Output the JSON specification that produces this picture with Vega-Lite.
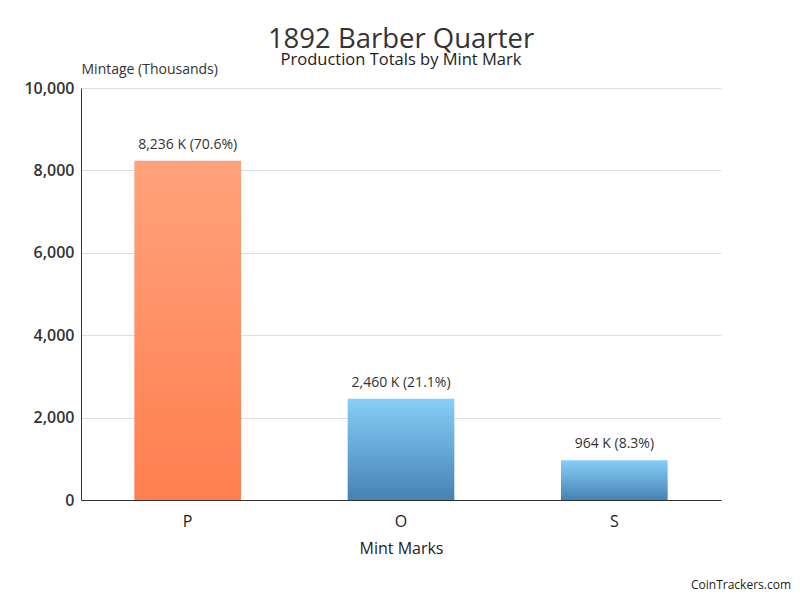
{
  "$schema": "https://vega.github.io/schema/vega-lite/v6.json",
  "background": "white",
  "padding": {"left": 23, "top": 26, "right": 10, "bottom": 5},
  "title": {"text": "CoinTrackers.com", "orient": "bottom", "anchor": "end", "fontSize": 12, "font": "Open Sans", "fontWeight": "normal", "color": "#222", "dx": 70, "offset": 24},
  "vconcat": [
    {
      "width": 640,
      "height": 412,
      "title": {
        "text": "1892 Barber Quarter",
        "subtitle": "Production Totals by Mint Mark",
        "anchor": "middle",
        "font": "Open Sans",
        "fontSize": 27.5,
        "fontWeight": "normal",
        "color": "#333",
        "subtitleFont": "Open Sans",
        "subtitleFontSize": 16.5,
        "subtitleColor": "#222",
        "subtitlePadding": -2,
        "offset": -6
      },
      "data": {
        "values": [
          {"mint": "P", "mintage": 8236, "label": "8,236 K (70.6%)", "group": "P"},
          {"mint": "O", "mintage": 2460, "label": "2,460 K (21.1%)", "group": "branch"},
          {"mint": "S", "mintage": 964, "label": "964 K (8.3%)", "group": "branch"}
        ]
      },
      "encoding": {
        "x": {
          "field": "mint",
          "type": "nominal",
          "sort": ["P", "O", "S"],
          "scale": {"paddingInner": 0.5, "paddingOuter": 0.25},
          "axis": {
            "title": "Mint Marks",
            "labelAngle": 0,
            "ticks": false,
            "domainColor": "#333",
            "labelFont": "Open Sans",
            "labelFontSize": 16,
            "labelColor": "#222",
            "labelPadding": 13,
            "titleFont": "Open Sans",
            "titleFontSize": 16,
            "titleFontWeight": "normal",
            "titleColor": "#222",
            "titlePadding": 11
          }
        },
        "y": {
          "field": "mintage",
          "type": "quantitative",
          "scale": {"domain": [0, 10000]},
          "axis": {
            "values": [0, 2000, 4000, 6000, 8000, 10000],
            "format": ",d",
            "title": "Mintage (Thousands)",
            "titleAngle": 0,
            "titleAlign": "left",
            "titleBaseline": "alphabetic",
            "titleX": 0,
            "titleY": -15,
            "titleFont": "Open Sans",
            "titleFontSize": 14,
            "titleFontWeight": "normal",
            "titleColor": "#333",
            "ticks": false,
            "domainColor": "#333",
            "gridColor": "#dedede",
            "labelFont": "Open Sans",
            "labelFontSize": 16,
            "labelFontWeight": 600,
            "labelColor": "#333",
            "labelPadding": 7
          }
        }
      },
      "layer": [
        {
          "transform": [{"filter": "datum.group === 'P'"}],
          "mark": {
            "type": "bar",
            "fill": {"gradient": "linear", "x1": 0, "y1": 0, "x2": 0, "y2": 1, "stops": [{"offset": 0, "color": "#FFA27C"}, {"offset": 1, "color": "#FF7F4F"}]}
          }
        },
        {
          "transform": [{"filter": "datum.group === 'branch'"}],
          "mark": {
            "type": "bar",
            "fill": {"gradient": "linear", "x1": 0, "y1": 0, "x2": 0, "y2": 1, "stops": [{"offset": 0, "color": "#87CEFA"}, {"offset": 1, "color": "#4682B4"}]}
          }
        },
        {
          "mark": {"type": "text", "baseline": "bottom", "dy": -9, "font": "Open Sans", "fontSize": 14, "color": "#333"},
          "encoding": {"text": {"field": "label"}}
        }
      ]
    }
  ],
  "config": {"view": {"stroke": null}, "concat": {"spacing": 0}}
}
